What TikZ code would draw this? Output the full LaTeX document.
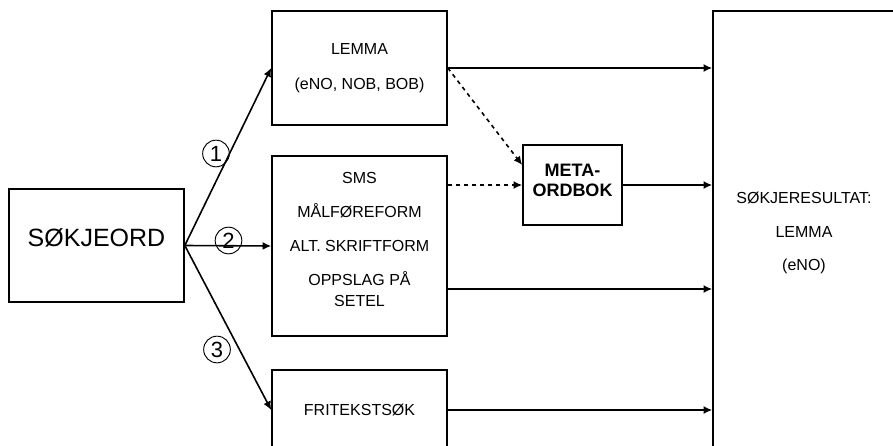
\documentclass[tikz,border=0pt]{standalone}
\usepackage{fontspec}
\setmainfont{Liberation Sans}
\usetikzlibrary{arrows.meta}
\begin{document}
\begin{tikzpicture}[x=0.75pt, y=-0.75pt, line width=1.2pt, >={Latex[length=6.5pt,width=6pt]},
    box/.style={draw, rectangle, align=center, inner sep=0pt, minimum width=131.25pt, minimum height=84.75pt, font=\fontsize{12}{15.75}\selectfont},
    txt/.style={align=center, inner sep=0pt, font=\fontsize{12}{15.75}\selectfont},
    num/.style={draw, circle, line width=0.7pt, minimum size=20pt, inner sep=0pt, font=\fontsize{16.5}{16.5}\selectfont}]
    \useasboundingbox (0,0) rectangle (893,446);
    \clip (0,0) rectangle (893,446);
    % boxes
    \node[box] (sok) at (96.5,245.5) {};
    \node[txt, font=\fontsize{18.75}{20}\selectfont] (soktxt) at (96.5,237.5) {SØKJEORD};
    \node[box, minimum height=85.5pt] (lemma) at (359.5,68) {LEMMA\\[10.5pt](eNO, NOB, BOB)};
    \node[box, minimum height=135pt] (sms) at (359.5,246) {};
    \node[txt] (smstxt) at (359.5,239.5) {SMS\\[9.75pt]MÅLFØREFORM\\[9.75pt]ALT. SKRIFTFORM\\[9.75pt]OPPSLAG PÅ\\SETEL};
    \node[box, minimum height=60pt] (fri) at (359.5,410) {FRITEKSTSØK};
    \node[box, minimum width=74.25pt, minimum height=60pt] (meta) at (572.5,185) {};
    \node[txt, font=\fontsize{13.5}{15}\selectfont\bfseries] (metatxt) at (572.5,180) {META-\\ORDBOK};
    \node[box, minimum width=136.5pt, minimum height=333pt] (res) at (804,233) {SØKJERESULTAT:\\[9.5pt]LEMMA\\[9.5pt](eNO)};
    % choices
    \draw[->] (sok.east) -- (lemma.west);
    \draw[->] (sok.east) -- (sms.west);
    \draw[->] (sok.east) -- (fri.west);
    \node[num] (n1) at (216,153.5) {1};
    \node[num] (n2) at (228.5,240.5) {2};
    \node[num] (n3) at (217,349.5) {3};
    % to result
    \coordinate (smsout) at ([yshift=-32.25pt]sms.east);
    \draw[->] (lemma.east) -- (lemma.east -| res.west);
    \draw[->] (meta.east) -- (meta.east -| res.west);
    \draw[->] (smsout) -- (smsout -| res.west);
    \draw[->] (fri.east) -- (fri.east -| res.west);
    \draw[->,dashed] (lemma.east) -- ([yshift=15pt]meta.west);
    \draw[->,dashed] (sms.east |- meta.west) -- (meta.west);
\end{tikzpicture}
\end{document}
